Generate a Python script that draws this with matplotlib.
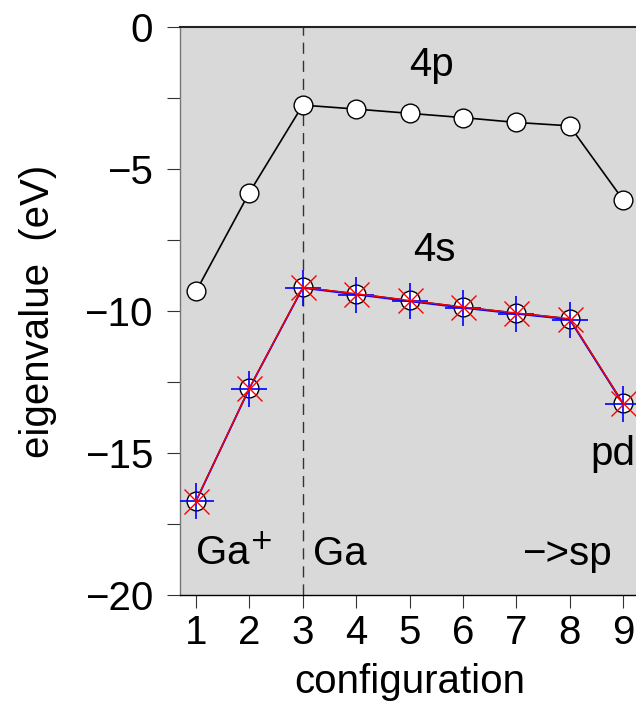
import matplotlib
matplotlib.use("Agg")
import matplotlib.pyplot as plt

plt.rcParams["font.family"] = ["Liberation Sans", "DejaVu Sans"]

config = [1, 2, 3, 4, 5, 6, 7, 8, 9]
e4p = [-9.31, -5.83, -2.75, -2.89, -3.04, -3.19, -3.36, -3.48, -6.08]
e4s_black = [-16.68, -12.71, -9.17, -9.39, -9.63, -9.86, -10.07, -10.27, -13.24]
e4s_blue = [-16.70, -12.73, -9.19, -9.42, -9.66, -9.89, -10.10, -10.30, -13.27]
e4s_red = [-16.68, -12.71, -9.17, -9.39, -9.63, -9.86, -10.07, -10.27, -13.24]

fig = plt.figure(figsize=(6.36, 7.05), dpi=100)
ax = fig.add_axes([180 / 636, 110 / 705, 459 / 636, 568 / 705])
ax.set_facecolor("#d9d9d9")

fs = 29

ax.axvline(3, color="#333333", lw=1.0, dashes=(8, 5), zorder=1)

ax.plot(config, e4p, color="black", lw=1.2, marker="o", ms=13.5,
        mfc="white", mec="black", mew=1.0, zorder=3)
ax.plot(config, e4s_black, color="black", lw=1.0, marker="o", ms=13.5,
        mfc="white", mec="black", mew=1.0, zorder=3)
ax.plot(config, e4s_blue, color="blue", lw=1.2, marker="+", ms=26,
        mew=1.2, zorder=4)
ax.plot(config, e4s_red, color="red", lw=1.0, marker="x", ms=18,
        mew=1.0, zorder=5)

ax.text(5.42, -1.33, "4p", fontsize=fs, ha="center", va="center")
ax.text(5.46, -7.85, "4s", fontsize=fs, ha="center", va="center")
ax.text(8.38, -15.05, "pd", fontsize=fs, ha="left", va="center")
ax.text(0.98, -18.55, "Ga$^{+}$", fontsize=fs, ha="left", va="center")
ax.text(3.2, -18.55, "Ga", fontsize=fs, ha="left", va="center")
ax.text(7.1, -18.55, "\u2212>sp", fontsize=fs, ha="left", va="center")

ax.set_xlim(0.7, 9.3)
ax.set_ylim(-20, 0)
ax.set_xticks(config)
ax.set_yticks([0, -5, -10, -15, -20])
ax.set_yticks([-2.5, -7.5, -12.5, -17.5], minor=True)
ax.tick_params(axis="both", which="both", direction="out", length=9.5,
               width=0.8, color="#333333", labelsize=fs)
ax.tick_params(axis="x", pad=4)
ax.tick_params(axis="y", pad=10)

ax.spines["right"].set_visible(False)
ax.spines["top"].set_color("#222222")
ax.spines["top"].set_linewidth(1.5)
ax.spines["bottom"].set_color("black")
ax.spines["bottom"].set_linewidth(1.0)
ax.spines["left"].set_color("#777777")
ax.spines["left"].set_linewidth(1.0)

ax.set_xlabel("configuration", fontsize=fs, labelpad=8)
ax.set_ylabel("eigenvalue  (eV)", fontsize=fs, labelpad=20)

fig.savefig("out.png", dpi=100)
